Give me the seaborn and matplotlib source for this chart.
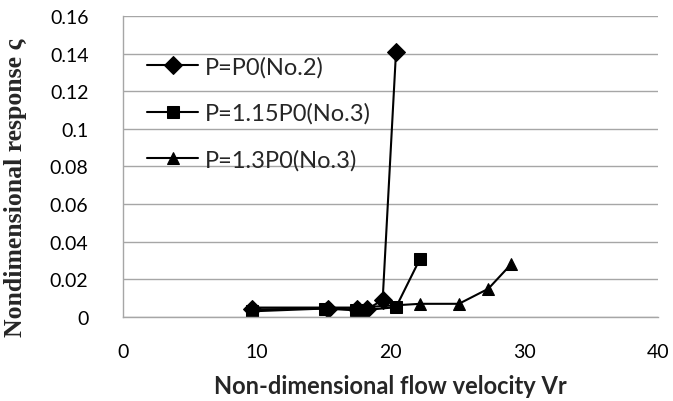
import matplotlib
matplotlib.use("Agg")
import matplotlib.pyplot as plt
import seaborn as sns
import pandas as pd

# Data
vr_p0 = [9.6, 15.3, 17.5, 18.2, 19.4, 20.4]
resp_p0 = [0.004, 0.0045, 0.004, 0.004, 0.009, 0.141]
vr_p115 = [9.6, 15.1, 17.4, 17.8, 20.4, 22.2]
resp_p115 = [0.003, 0.0045, 0.0035, 0.0035, 0.0052, 0.031]
vr_p13 = [9.6, 15.2, 17.6, 22.2, 25.1, 27.3, 29.0]
resp_p13 = [0.005, 0.005, 0.005, 0.007, 0.007, 0.015, 0.028]
labels = ["P=P0(No.2)", "P=1.15P0(No.3)", "P=1.3P0(No.3)"]
markers = ["D", "s", "^"]
msizes = [9, 9, 9]

x_ticks = [0, 10, 20, 30, 40]
y_ticks = [0, 0.02, 0.04, 0.06, 0.08, 0.1, 0.12, 0.14, 0.16]
y_ticklabels = ["0", "0.02", "0.04", "0.06", "0.08", "0.1", "0.12", "0.14", "0.16"]

sns.set_style("white")
plt.rcParams["font.family"] = ["Lato", "DejaVu Sans"]

fig = plt.figure(figsize=(6.73, 4.02), dpi=100)
ax = fig.add_axes([0.183, 0.209, 0.795, 0.749])

series = [(vr_p0, resp_p0), (vr_p115, resp_p115), (vr_p13, resp_p13)]
for (xs, ys), lab, mk, ms in zip(series, labels, markers, msizes):
    df = pd.DataFrame({"x": xs, "y": ys})
    sns.lineplot(data=df, x="x", y="y", sort=False, ax=ax, color="black",
                 linewidth=1.5, marker=mk, markersize=ms, markeredgecolor="black",
                 markerfacecolor="black", label=lab)

ax.set_xlim(0, 40)
ax.set_ylim(0, 0.16)
ax.set_xticks(x_ticks)
ax.set_yticks(y_ticks)
ax.set_yticklabels(y_ticklabels)
ax.tick_params(axis="both", labelsize=14, length=0, colors="black")
ax.tick_params(axis="x", pad=19)
ax.tick_params(axis="y", pad=25)
ax.grid(axis="y", color="#A6A6A6", linewidth=1.0)
ax.set_axisbelow(True)
for s in ["top", "right"]:
    ax.spines[s].set_visible(False)
for s in ["left", "bottom"]:
    ax.spines[s].set_color("#A6A6A6")
    ax.spines[s].set_linewidth(1.0)

ax.set_xlabel("Non-dimensional flow velocity Vr", fontsize=17, fontweight="bold",
              family=["Lato", "DejaVu Sans"])
ax.xaxis.set_label_coords(0.5, -0.19)
ax.set_ylabel("Nondimensional response \u03c2", fontsize=18.5, fontweight="bold",
              family=["Liberation Serif", "DejaVu Serif"])
ax.yaxis.set_label_coords(-0.179, 0.433)

leg = ax.legend(loc="upper left", bbox_to_anchor=(0.045, 0.867), frameon=False,
                fontsize=17, handlelength=2.16, labelspacing=1.06, borderpad=0,
                borderaxespad=0, handletextpad=0.3)

fig.savefig("out.png", dpi=100)
